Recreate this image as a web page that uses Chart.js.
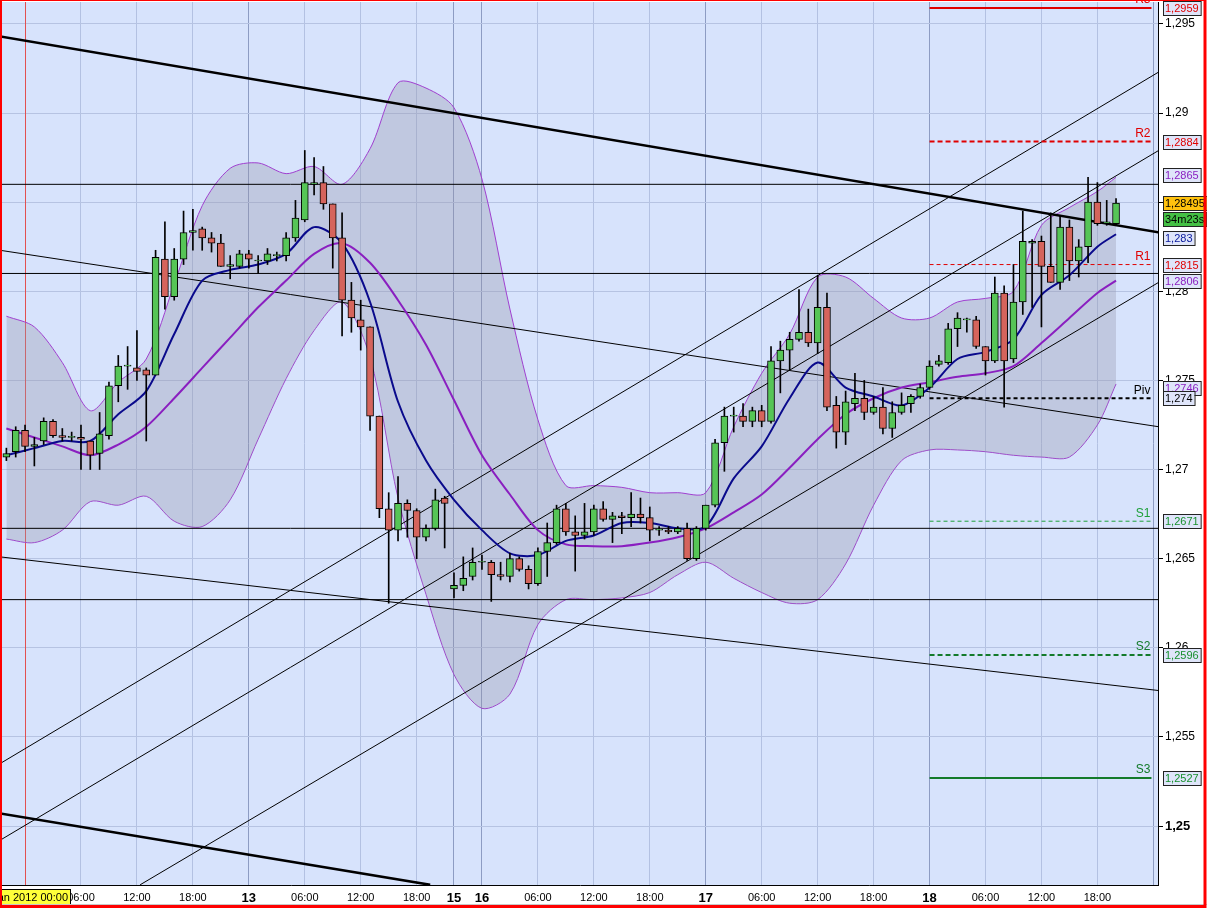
<!DOCTYPE html>
<html>
<head>
<meta charset="utf-8">
<script src="https://cdn.jsdelivr.net/npm/chart.js@4.4.1/dist/chart.umd.min.js"></script>
<style>
html, body { margin: 0; padding: 0; background: #fff; }
#wrap { width: 1207px; height: 910px; }
</style>
</head>
<body>
<div id="wrap"><canvas id="chart" width="1207" height="910"></canvas></div>
<script>
// Bougies horaires, index 0 = 12 Jan 2012 00:00
const firstBar = -2;
const openP = [1.2707,1.2710,1.2722,1.2713,1.2716,1.2727,1.2719,1.2718,1.2718,1.2716,1.2709,1.2719,1.2747,1.2758,1.2757,1.2756,1.2753,1.2818,1.2797,1.2818,
  1.2833,1.2835,1.2830,1.2827,1.2814,1.2814,1.2821,1.2817,1.2817,1.2820,1.2820,1.2830,1.2840,1.2860,1.2861,1.2849,1.2830,1.2795,1.2784,1.2780,
  1.2730,1.2678,1.2666,1.2681,1.2677,1.2662,1.2667,1.2684,1.2633,1.2635,1.2640,1.2648,1.2648,1.2641,1.2640,1.2650,1.2644,1.2636,1.2654,1.2659,
  1.2678,1.2665,1.2663,1.2665,1.2678,1.2672,1.2674,1.2673,1.2675,1.2673,1.2666,1.2666,1.2665,1.2667,1.2650,1.2667,1.2680,1.2715,1.2730,1.2730,
  1.2727,1.2733,1.2727,1.2761,1.2767,1.2773,1.2777,1.2771,1.2791,1.2736,1.2721,1.2737,1.2740,1.2732,1.2735,1.2723,1.2732,1.2737,1.2741,1.2746,
  1.2759,1.2760,1.2779,1.2784,1.2784,1.2769,1.2761,1.2799,1.2762,1.2794,1.2827,1.2828,1.2814,1.2805,1.2836,1.2817,1.2825,1.2850,1.2838,1.2838];
const highP = [1.2712,1.2724,1.2725,1.2718,1.2729,1.2728,1.2723,1.2721,1.2725,1.2716,1.2732,1.2749,1.2764,1.2769,1.2778,1.2757,1.2823,1.2839,1.2824,1.2845,
  1.2846,1.2836,1.2833,1.2832,1.2820,1.2823,1.2823,1.2820,1.2824,1.2822,1.2833,1.2851,1.2879,1.2875,1.2870,1.2849,1.2844,1.2805,1.2795,1.2780,
  1.2730,1.2687,1.2696,1.2683,1.2678,1.2669,1.2689,1.2685,1.2642,1.2651,1.2656,1.2652,1.2649,1.2648,1.2653,1.2651,1.2646,1.2656,1.2670,1.2680,
  1.2681,1.2674,1.2681,1.2680,1.2682,1.2676,1.2676,1.2687,1.2684,1.2679,1.2668,1.2668,1.2668,1.2670,1.2668,1.2680,1.2717,1.2735,1.2735,1.2737,
  1.2735,1.2736,1.2769,1.2772,1.2777,1.2801,1.2790,1.2809,1.2799,1.2741,1.2744,1.2754,1.2750,1.2741,1.2746,1.2738,1.2743,1.2742,1.2748,1.2761,
  1.2764,1.2782,1.2788,1.2785,1.2786,1.2769,1.2808,1.2803,1.2815,1.2845,1.2829,1.2831,1.2844,1.2842,1.2840,1.2829,1.2864,1.2861,1.2851,1.2852];
const lowP = [1.2705,1.2707,1.2710,1.2702,1.2714,1.2718,1.2716,1.2716,1.2700,1.2700,1.2700,1.2717,1.2738,1.2745,1.2750,1.2716,1.2753,1.2790,1.2795,1.2815,
  1.2823,1.2823,1.2822,1.2814,1.2807,1.2813,1.2813,1.2810,1.2815,1.2817,1.2817,1.2828,1.2839,1.2854,1.2846,1.2813,1.2775,1.2777,1.2767,1.2722,
  1.2673,1.2625,1.2660,1.2662,1.2650,1.2660,1.2666,1.2656,1.2628,1.2632,1.2638,1.2644,1.2626,1.2638,1.2637,1.2643,1.2633,1.2635,1.2640,1.2658,
  1.2663,1.2643,1.2661,1.2663,1.2671,1.2659,1.2664,1.2668,1.2670,1.2660,1.2663,1.2664,1.2664,1.2649,1.2649,1.2666,1.2679,1.2699,1.2721,1.2724,
  1.2724,1.2724,1.2726,1.2743,1.2756,1.2772,1.2769,1.2765,1.2733,1.2712,1.2714,1.2733,1.2728,1.2731,1.2720,1.2718,1.2731,1.2732,1.2740,1.2745,
  1.2758,1.2759,1.2769,1.2777,1.2768,1.2753,1.2760,1.2735,1.2760,1.2787,1.2791,1.2780,1.2805,1.2801,1.2806,1.2808,1.2816,1.2837,1.2837,1.2837];
const closeP = [1.2709,1.2722,1.2713,1.2714,1.2727,1.2719,1.2718,1.2718,1.2717,1.2708,1.2720,1.2747,1.2758,1.2758,1.2755,1.2753,1.2819,1.2797,1.2818,1.2833,
  1.2834,1.2830,1.2827,1.2814,1.2815,1.2821,1.2818,1.2817,1.2821,1.2820,1.2830,1.2841,1.2861,1.2861,1.2849,1.2830,1.2795,1.2785,1.2780,1.2730,
  1.2678,1.2666,1.2681,1.2677,1.2662,1.2667,1.2683,1.2681,1.2635,1.2639,1.2648,1.2648,1.2641,1.2640,1.2650,1.2644,1.2636,1.2654,1.2659,1.2678,
  1.2665,1.2663,1.2665,1.2678,1.2672,1.2674,1.2673,1.2675,1.2673,1.2666,1.2666,1.2665,1.2667,1.2650,1.2667,1.2680,1.2715,1.2730,1.2730,1.2727,
  1.2733,1.2727,1.2761,1.2767,1.2773,1.2777,1.2771,1.2791,1.2735,1.2721,1.2738,1.2740,1.2732,1.2735,1.2723,1.2732,1.2736,1.2741,1.2746,1.2758,
  1.2761,1.2779,1.2785,1.2784,1.2769,1.2761,1.2799,1.2761,1.2794,1.2828,1.2828,1.2814,1.2805,1.2836,1.2817,1.2825,1.2850,1.2838,1.2839,1.28495];

const bandIdx = [-2,1,4,7,10,13,16,19,22,25,28,31,34,37,40,43,46,49,52,55,58,61,64,67,70,73,76,79,82,85,88,91,94,97,100,103,106,109,112,115,117];
const upperBand = [1.2786,1.2780,1.2760,1.2733,1.2749,1.2762,1.2804,1.2848,1.2869,1.2872,1.2866,1.2870,1.2860,1.2880,1.2917,1.2914,1.2903,1.2863,1.2790,1.2728,1.2691,
  1.2691,1.2690,1.2687,1.2687,1.2687,1.2724,1.2754,1.2776,1.2808,1.2808,1.2796,1.2785,1.2785,1.2794,1.2796,1.2800,1.2837,1.2847,1.2856,1.2864];
const middleBand = [1.2723,1.2718,1.2713,1.2708,1.2714,1.2724,1.2740,1.2757,1.2774,1.2791,1.2806,1.2821,1.2827,1.2816,1.2795,1.2770,1.2739,1.2708,1.2686,1.2666,1.2658,
  1.2657,1.2657,1.2659,1.2662,1.2667,1.2676,1.2686,1.2701,1.2717,1.2731,1.2740,1.2746,1.2749,1.2752,1.2754,1.2758,1.2771,1.2785,1.2799,1.2806];
const lowerBand = [1.2661,1.2659,1.2666,1.2682,1.2680,1.2685,1.2671,1.2668,1.2683,1.2717,1.2751,1.2778,1.2794,1.2763,1.2684,1.2630,1.2585,1.2566,1.2574,1.2613,1.2627,
  1.2627,1.2628,1.2631,1.2641,1.2648,1.2639,1.2631,1.2625,1.2627,1.2647,1.2680,1.2705,1.2711,1.2711,1.2710,1.2708,1.2707,1.2707,1.2725,1.2748];
const fastMA = [1.2708,1.2712,1.2716,1.2716,1.2731,1.2744,1.2776,1.2806,1.2812,1.2815,1.2821,1.2836,1.2827,1.2794,1.2738,1.2705,1.2683,1.2666,1.2653,1.2652,1.2660,
  1.2663,1.2670,1.2670,1.2667,1.2668,1.2695,1.2713,1.2740,1.2760,1.2746,1.2741,1.2736,1.2746,1.2762,1.2766,1.2773,1.2798,1.2809,1.2825,1.2832];

// Lignes tracées : [index1, prix1, index2, prix2]
const thickTrend = [[-2.68, 1.2943, 121.57, 1.2833], [-2.68, 1.2507, 43.45, 1.2467]];
const thinTrend = [[-2.68, 1.2823, 121.57, 1.2724], [-2.68, 1.2651, 121.57, 1.2576],
  [-2.68, 1.2535, 121.57, 1.2923], [-2.68, 1.2492, 121.57, 1.2879], [12.34, 1.2467, 121.57, 1.2805]];
const levelLines = [1.2860, 1.2810, 1.2667, 1.2627];

// Points pivots
const pivotNames = ['R3', 'R2', 'R1', 'Piv', 'S1', 'S2', 'S3'];
const pivotValues = [1.2959, 1.2884, 1.2815, 1.2740, 1.2671, 1.2596, 1.2527];
const pivotStart = 97, pivotEnd = 120.8;

// Étiquettes de l'axe de droite
const markerValues = [1.2959, 1.2884, 1.2865, 1.28495, 1.2830, 1.2815, 1.2806, 1.2746, 1.2740, 1.2671, 1.2596, 1.2527];
const markerLabels = ['1,2959', '1,2884', '1,2865', '1,28495', '1,283', '1,2815', '1,2806', '1,2746', '1,274', '1,2671', '1,2596', '1,2527'];
const countdown = '34m23s';
const cursorLabel = '12 Jan 2012 00:00';

// Axes
const xTicks = [0, 6, 12, 18, 24, 30, 36, 42, 46, 49, 55, 61, 67, 73, 79, 85, 91, 97, 103, 109, 115, 121];
const xLabels = ['', '06:00', '12:00', '18:00', '13', '06:00', '12:00', '18:00', '15', '16', '06:00', '12:00', '18:00', '17', '06:00', '12:00', '18:00', '18', '06:00', '12:00', '18:00', ''];
const dayTicks = [0, 24, 46, 49, 73, 97, 121];
const yTicks = [1.25, 1.255, 1.26, 1.265, 1.27, 1.275, 1.28, 1.285, 1.29, 1.295];

const FONT = 'Liberation Sans';
const barIdx = openP.map((_, k) => firstBar + k);

function seg(a) {
    return [{x: a[0], y: a[1]}, {x: a[2], y: a[3]}];
}
function lineSet(data, color, width, dash, order) {
    return {type: 'line', data, borderColor: color, borderWidth: width, borderDash: dash || [],
        pointRadius: 0, fill: false, tension: 0, order};
}

const datasets = [
    {type: 'line', data: bandIdx.map((x, k) => ({x, y: upperBand[k]})), borderColor: '#a040d0', borderWidth: 1,
        pointRadius: 0, tension: 0.3, fill: '+1', backgroundColor: 'rgba(150,150,170,0.34)', order: 20},
    {type: 'line', data: bandIdx.map((x, k) => ({x, y: lowerBand[k]})), borderColor: '#a040d0', borderWidth: 1,
        pointRadius: 0, tension: 0.3, fill: false, order: 20},
    {type: 'line', data: bandIdx.map((x, k) => ({x, y: middleBand[k]})), borderColor: '#8a1fc0', borderWidth: 2,
        pointRadius: 0, tension: 0.3, fill: false, order: 12},
    {type: 'line', data: bandIdx.map((x, k) => ({x, y: fastMA[k]})), borderColor: '#0a0a8c', borderWidth: 2,
        pointRadius: 0, tension: 0.3, fill: false, order: 11}
];
thickTrend.forEach(t => datasets.push(lineSet(seg(t), '#000', 2.5, null, 15)));
thinTrend.forEach(t => datasets.push(lineSet(seg(t), '#000', 1, null, 15)));
levelLines.forEach(v => datasets.push(lineSet([{x: -3, y: v}, {x: 122, y: v}], '#000', 1, null, 15)));

const pivotStyle = {
    R3: ['#e00000', 2, []], R2: ['#e00000', 2, [5, 3]], R1: ['#e00000', 1, [4, 3]], Piv: ['#000000', 2, [4, 3]],
    S1: ['#1ea03a', 1, [4, 3]], S2: ['#137a2a', 2, [5, 3]], S3: ['#137a2a', 2, []]
};
pivotNames.forEach((n, k) => {
    const s = pivotStyle[n];
    datasets.push(lineSet([{x: pivotStart, y: pivotValues[k]}, {x: pivotEnd, y: pivotValues[k]}], s[0], s[1], s[2], 14));
});

// Mèches puis corps des bougies
datasets.push({type: 'bar', data: barIdx.map((x, k) => ({x, y: [lowP[k], highP[k]]})),
    backgroundColor: '#000', barThickness: 1, grouped: false, order: 1});
datasets.push({type: 'bar', data: barIdx.map((x, k) => ({x, y: [openP[k], closeP[k]]})),
    backgroundColor: ctx => closeP[ctx.dataIndex] >= openP[ctx.dataIndex] ? '#56c556' : '#d5645c',
    borderColor: '#000', borderWidth: 1, borderSkipped: false, barThickness: 7, minBarLength: 1, grouped: false, order: 0});

const decor = {
    id: 'decor',
    beforeDraw(chart) {
        const {ctx, chartArea: a} = chart;
        ctx.save();
        ctx.fillStyle = '#fff';
        ctx.fillRect(0, 0, chart.width, chart.height);
        ctx.fillStyle = '#d7e3fc';
        ctx.fillRect(a.left, a.top, a.right - a.left, a.bottom - a.top);
        ctx.restore();
    },
    beforeDatasetsDraw(chart) {
        const {ctx, chartArea: a, scales: {x}} = chart;
        const px = Math.round(x.getPixelForValue(0)) + 0.5;
        ctx.save();
        ctx.strokeStyle = '#e25050';
        ctx.lineWidth = 1;
        ctx.beginPath();
        ctx.moveTo(px, a.top);
        ctx.lineTo(px, a.bottom);
        ctx.stroke();
        ctx.restore();
    },
    afterDraw(chart) {
        const {ctx, chartArea: a, scales: {x, y}} = chart;
        ctx.save();
        ctx.font = '12px "' + FONT + '"';

        // Libellés des pivots
        const pivColors = {R3: '#e00000', R2: '#e00000', R1: '#e00000', Piv: '#000', S1: '#1ea03a', S2: '#137a2a', S3: '#137a2a'};
        ctx.textAlign = 'right';
        ctx.textBaseline = 'bottom';
        pivotNames.forEach((n, k) => {
            ctx.fillStyle = pivColors[n];
            ctx.fillText(n, x.getPixelForValue(pivotEnd) - 1, y.getPixelForValue(pivotValues[k]) - 2);
        });

        // Étiquettes de prix à droite
        ctx.font = '11px "' + FONT + '"';
        const txtColors = ['#e00000', '#e00000', '#8a1fc0', '#000', '#0a1a9c', '#e00000', '#8a1fc0', '#8a1fc0', '#000', '#18902e', '#18902e', '#18902e'];
        ctx.textAlign = 'left';
        ctx.textBaseline = 'middle';
        const bx = a.right + 5;
        markerValues.forEach((v, k) => {
            const py = Math.round(y.getPixelForValue(v));
            const w = ctx.measureText(markerLabels[k]).width + 4;
            ctx.fillStyle = markerLabels[k] === '1,28495' ? '#ffc20e' : '#dfe5fa';
            ctx.fillRect(bx, py - 7, w, 15);
            ctx.strokeStyle = '#222';
            ctx.lineWidth = 1;
            ctx.strokeRect(bx + 0.5, py - 6.5, w, 14);
            ctx.fillStyle = txtColors[k];
            ctx.fillText(markerLabels[k], bx + 2, py + 1);
            if (markerLabels[k] === '1,28495') {
                const cw = ctx.measureText(countdown).width + 4;
                ctx.fillStyle = '#44c044';
                ctx.fillRect(bx, py + 9, cw, 15);
                ctx.strokeRect(bx + 0.5, py + 9.5, cw, 14);
                ctx.fillStyle = '#000';
                ctx.fillText(countdown, bx + 2, py + 17);
            }
        });

        // Curseur de date en bas à gauche
        const right = 70;
        const tw = ctx.measureText(cursorLabel).width + 4;
        ctx.fillStyle = '#ffff3a';
        ctx.fillRect(right - tw, a.bottom + 4, tw, 16);
        ctx.strokeStyle = '#000';
        ctx.strokeRect(right - tw + 0.5, a.bottom + 4.5, tw, 15);
        ctx.fillStyle = '#000';
        ctx.textAlign = 'right';
        ctx.fillText(cursorLabel, right - 2, a.bottom + 13);

        // Cadre rouge
        ctx.fillStyle = '#c8c8c8';
        ctx.fillRect(0, chart.height - 6, chart.width, 1);
        ctx.strokeStyle = '#ff0000';
        ctx.lineWidth = 3;
        ctx.strokeRect(0.5, -0.5, chart.width - 2.5, chart.height - 3);
        ctx.restore();
    }
};

new Chart(document.getElementById('chart'), {
    type: 'bar',
    data: {datasets},
    plugins: [decor],
    options: {
        responsive: false,
        devicePixelRatio: 1,
        animation: false,
        events: [],
        layout: {autoPadding: false, padding: {left: 2, top: 2, right: 0, bottom: 0}},
        plugins: {legend: {display: false}, tooltip: {enabled: false}},
        scales: {
            x: {
                type: 'linear', min: -2.47, max: 121.5, offset: false,
                afterBuildTicks: s => { s.ticks = xTicks.map(v => ({value: v})); },
                afterFit: s => { s.height = 25; s.paddingLeft = 0; s.paddingRight = 0; },
                grid: {offset: false, tickLength: 0,
                    color: c => dayTicks.includes(c.tick && c.tick.value) ? '#8d9cc3' : '#b3c1e2'},
                border: {display: true, color: '#000', width: 1},
                ticks: {autoSkip: false, maxRotation: 0, padding: 6, color: '#000',
                    callback: (v, i) => xLabels[i],
                    font: c => ({family: FONT, size: c.tick && dayTicks.includes(c.tick.value) ? 13 : 11,
                        weight: c.tick && dayTicks.includes(c.tick.value) ? 'bold' : 'normal'})}
            },
            y: {
                type: 'linear', position: 'right', min: 1.24669, max: 1.29623, beginAtZero: false,
                afterBuildTicks: s => { s.ticks = yTicks.map(v => ({value: v})); },
                afterFit: s => { s.width = 49; s.paddingTop = 0; s.paddingBottom = 0; },
                grid: {color: '#b6c3e2', tickColor: '#000', tickLength: 5},
                border: {display: true, color: '#000', width: 1},
                ticks: {padding: 2, color: '#000',
                    callback: v => v.toFixed(3).replace(/0+$/, '').replace('.', ','),
                    font: c => ({family: FONT, size: c.tick && c.tick.value === 1.25 ? 13 : 12,
                        weight: c.tick && c.tick.value === 1.25 ? 'bold' : 'normal'})}
            }
        }
    }
});
</script>
</body>
</html>
